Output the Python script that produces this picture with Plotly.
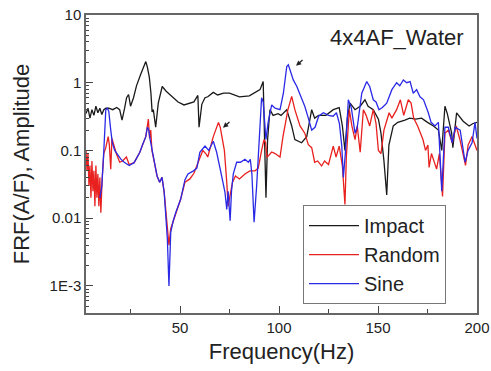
import plotly.graph_objects as go
import numpy as np

# ---------------- data ----------------
impact_f = [2.5, 3.5, 4.5, 5.5, 6.5, 7.5, 8.5, 9.5, 10.5, 11.5, 12.5, 14, 16, 18, 19.5, 20.7, 22, 23, 24, 25,
            26.5, 28, 30, 31.5, 32.7, 33.5, 34.5, 35.3, 35.9, 36.5, 37.7, 39, 41, 43, 46, 49, 52, 55, 57, 59,
            59.6, 61, 62.6, 64, 66.8, 69, 72, 75, 78, 80, 85, 88, 90.4, 92, 93.4, 94.2, 95.4, 97, 99.5, 101,
            103.9, 106.4, 108, 111.4, 114, 116.5, 118, 120, 123.7, 127.4, 130.4, 132, 133.3, 134.5, 135.9,
            138.4, 141, 143.4, 145, 147.6, 150.2, 151.5, 153, 154.4, 155.5, 157.7, 160, 163.6, 166, 169, 172,
            175, 178, 180.5, 182.2, 183.8, 185, 187.2, 187.8, 189.7, 193, 196, 198, 200]
impact_a = [0.35, 0.42, 0.30, 0.40, 0.33, 0.45, 0.36, 0.42, 0.34, 0.40, 0.42, 0.42, 0.40, 0.43, 0.40, 0.28, 0.42,
            0.60, 0.67, 0.45, 0.60, 0.90, 1.3, 1.7, 2.05, 1.7, 1.2, 0.70, 0.37, 0.40, 0.22, 0.50, 0.88, 0.75,
            0.62, 0.52, 0.47, 0.50, 0.52, 0.65, 0.22, 0.48, 0.60, 0.62, 0.72, 0.66, 0.70, 0.70, 0.65, 0.62,
            0.64, 0.72, 0.79, 1.04, 0.02, 0.14, 0.40, 0.33, 0.35, 0.33, 0.40, 0.23, 0.145, 0.13, 0.16, 0.40,
            0.30, 0.33, 0.33, 0.40, 0.43, 0.23, 0.10, 0.30, 0.50, 0.40, 0.45, 0.56, 0.45, 0.40, 0.29, 0.18,
            0.07, 0.022, 0.12, 0.23, 0.26, 0.28, 0.30, 0.29, 0.30, 0.26, 0.23, 0.20, 0.10, 0.45, 0.35, 0.18,
            0.11, 0.36, 0.27, 0.23, 0.25, 0.26]

random_f = [2.5, 3, 3.5, 4, 4.5, 5, 5.5, 6, 6.5, 7, 7.5, 8, 8.5, 9, 9.5, 10, 10.7, 11.5, 12.5, 13.7, 14.3, 15,
            15.6, 16.5, 17.8, 19.5, 21, 22.9, 24.3, 26.8, 29.7, 32.7, 33.5, 34, 34.6, 35.2, 35.8, 36.7, 38.4,
            39.7, 40.9, 42, 43.6, 44.4, 45.3, 47.8, 50.3, 52.5, 55, 57, 59, 61.5, 63, 64, 66.8, 68.5, 69.4,
            70.3, 72.4, 73.6, 74.3, 75.3, 76.5, 78, 80, 82.8, 85.3, 87.9, 89.5, 91.2, 92.4, 93.2, 93.9, 96.3,
            98, 100.5, 102, 104.5, 106.4, 108, 110.6, 113, 114.8, 116.5, 118, 119.5, 121.5, 123, 125, 127.4,
            128.8, 130.4, 132, 133.3, 134, 135.5, 136.8, 138.4, 139.5, 141, 142.6, 144, 145.8, 147.6, 149,
            150.2, 151.5, 153, 155.6, 157, 159.4, 161.3, 163, 165.3, 166.7, 168, 170, 172.7, 174, 175.2,
            175.8, 177, 179.6, 181, 182.6, 183.8, 185.5, 187.5, 189.5, 191.5, 194.2, 195.5, 197.5, 200]
random_a = [0.10, 0.05, 0.09, 0.03, 0.06, 0.02, 0.07, 0.025, 0.05, 0.015, 0.06, 0.02, 0.045, 0.015, 0.04,
            0.012, 0.04, 0.09, 0.11, 0.16, 0.12, 0.053, 0.15, 0.12, 0.09, 0.067, 0.07, 0.08, 0.062, 0.066,
            0.094, 0.16, 0.22, 0.29, 0.15, 0.20, 0.10, 0.074, 0.042, 0.034, 0.04, 0.024, 0.008, 0.004, 0.007,
            0.012, 0.019, 0.034, 0.038, 0.046, 0.067, 0.10, 0.09, 0.08, 0.16, 0.22, 0.26, 0.22, 0.10, 0.034,
            0.015, 0.022, 0.034, 0.042, 0.038, 0.045, 0.05, 0.05, 0.055, 0.10, 0.145, 0.13, 0.079, 0.095,
            0.09, 0.08, 0.16, 0.40, 0.63, 0.40, 0.23, 0.18, 0.122, 0.11, 0.067, 0.07, 0.059, 0.07, 0.062,
            0.116, 0.08, 0.116, 0.059, 0.016, 0.08, 0.40, 0.23, 0.145, 0.23, 0.094, 0.40, 0.33, 0.23, 0.40,
            0.25, 0.10, 0.09, 0.20, 0.36, 0.30, 0.40, 0.56, 0.33, 0.56, 0.50, 0.30, 0.23, 0.145, 0.10, 0.12,
            0.056, 0.09, 0.053, 0.09, 0.021, 0.18, 0.20, 0.13, 0.23, 0.14, 0.06, 0.12, 0.16, 0.10]

sine_f = [9.5, 10.5, 11.5, 12.5, 13.3, 14, 15, 15.8, 17, 18.4, 20, 21.8, 24.3, 26.8, 28.5, 29.7, 31, 32.7,
          33.5, 34.2, 35, 36.7, 38.4, 39.7, 40.9, 42, 43.6, 44.4, 45.3, 46.5, 47.8, 50.3, 52.5, 54, 56.8,
          58.5, 60, 62.6, 64.5, 66.8, 68.5, 71, 72.7, 73.6, 74.3, 75.3, 76, 76.9, 78.6, 80.5, 82.8, 84.5,
          85.5, 86.3, 87.4, 88.7, 90.4, 91.2, 92, 93.4, 94.5, 96.3, 98, 100.5, 102.2, 103.9, 104.7, 107.2,
          109, 110.6, 113, 114.8, 116.5, 118.2, 120, 122.4, 125, 127.3, 129, 130.5, 131.7, 132.5, 133.5,
          135, 136.5, 138.4, 139.5, 141.8, 144.3, 145.8, 147.6, 149, 150.5, 152.2, 154.4, 157, 159.4, 161,
          162.8, 164.5, 166.2, 167.8, 169.5, 171.2, 173, 175.4, 176.8, 178.8, 180.5, 182.2, 183.8, 185.5,
          187.5, 189, 191.5, 194, 195.5, 197.5, 199, 200]
sine_a = [0.02, 0.03, 0.10, 0.40, 0.42, 0.38, 0.20, 0.13, 0.10, 0.087, 0.075, 0.067, 0.06, 0.066, 0.08,
          0.094, 0.12, 0.16, 0.22, 0.20, 0.14, 0.074, 0.042, 0.034, 0.04, 0.024, 0.0049, 0.001, 0.0062,
          0.009, 0.012, 0.019, 0.037, 0.045, 0.05, 0.055, 0.094, 0.116, 0.10, 0.137, 0.094, 0.042, 0.024,
          0.0135, 0.025, 0.0092, 0.025, 0.045, 0.067, 0.067, 0.074, 0.067, 0.074, 0.045, 0.0087, 0.03,
          0.26, 0.60, 0.52, 0.145, 0.26, 0.47, 0.42, 0.40, 0.70, 1.74, 1.84, 1.1, 0.88, 0.67, 0.45, 0.30,
          0.20, 0.22, 0.32, 0.36, 0.33, 0.32, 0.36, 0.25, 0.116, 0.04, 0.09, 0.56, 0.43, 0.18, 0.22, 0.70,
          1.04, 0.88, 0.56, 0.52, 0.40, 0.43, 0.50, 0.79, 1.0, 0.90, 1.1, 1.0, 1.04, 0.70, 0.79, 0.62,
          0.56, 0.36, 0.26, 0.23, 0.26, 0.025, 0.22, 0.22, 0.13, 0.22, 0.20, 0.067, 0.10, 0.13, 0.26, 0.15]

x_tick_vals = [50, 100, 150, 200]
y_tick_vals = [0.001, 0.01, 0.1, 1, 10]
y_tick_text = ["1E-3", "0.01", "0.1", "1", "10"]

# ---------------- figure ----------------
FONT = "Liberation Sans, Arial, sans-serif"
fig = go.Figure()
fig.add_trace(go.Scatter(x=impact_f, y=impact_a, mode="lines", name="Impact",
                         line=dict(color="#1a1a1a", width=1.3)))
fig.add_trace(go.Scatter(x=random_f, y=random_a, mode="lines", name="Random",
                         line=dict(color="#e8201e", width=1.3)))
fig.add_trace(go.Scatter(x=sine_f, y=sine_a, mode="lines", name="Sine",
                         line=dict(color="#2a2ae6", width=1.3)))

minor_y = [k * 10.0 ** e for e in range(-4, 1) for k in range(2, 10)]

fig.update_layout(
    width=491, height=371,
    margin=dict(l=86, r=14, t=15, b=58, autoexpand=False),
    paper_bgcolor="white", plot_bgcolor="white",
    font=dict(family=FONT, color="#222"),
    showlegend=True,
    legend=dict(x=0.555, y=0.362, xanchor="left", yanchor="top",
                bgcolor="white", bordercolor="#777", borderwidth=1,
                font=dict(size=20, family=FONT, color="#222"),
                itemwidth=50, tracegroupgap=0),
    xaxis=dict(range=[2.5, 200], tickvals=x_tick_vals, ticks="inside", ticklen=7,
               tickcolor="#444", tickfont=dict(size=15), showline=True, linecolor="#666",
               linewidth=1.5, mirror=True, showgrid=False, zeroline=False, automargin=False,
               minor=dict(tickvals=[25, 75, 125, 175], ticks="inside", ticklen=4, tickcolor="#444"),
               title=dict(text="Frequency(Hz)", font=dict(size=22), standoff=9)),
    yaxis=dict(type="log", range=[-3.4, 1], tickvals=y_tick_vals, ticktext=y_tick_text,
               ticks="inside", ticklen=7, tickcolor="#444", tickfont=dict(size=15),
               showline=True, linecolor="#666", linewidth=1.5, mirror=True, showgrid=False,
               zeroline=False, automargin=False,
               minor=dict(tickvals=minor_y, ticks="inside", ticklen=3, tickcolor="#444"),
               title=dict(text="FRF(A/F), Amplitude", font=dict(size=22), standoff=14)),
)

fig.add_annotation(x=0.972, y=0.923, xref="paper", yref="paper", xanchor="right", yanchor="middle",
                   text="4x4AF_Water", showarrow=False, font=dict(size=22, color="#222"))

# small pointer arrows
arrow_heads = [(71.7, 0.217), (108.6, 1.78)]
for fx, ay_val in arrow_heads:
    fig.add_annotation(x=fx, y=np.log10(ay_val), xref="x", yref="y", text="",
                       showarrow=True, arrowhead=2, arrowsize=0.8, arrowwidth=1.3,
                       arrowcolor="#222", ax=8, ay=-7)

fig.write_html("out.html", config={"displayModeBar": False},
               post_script="document.body.style.margin='0';")
